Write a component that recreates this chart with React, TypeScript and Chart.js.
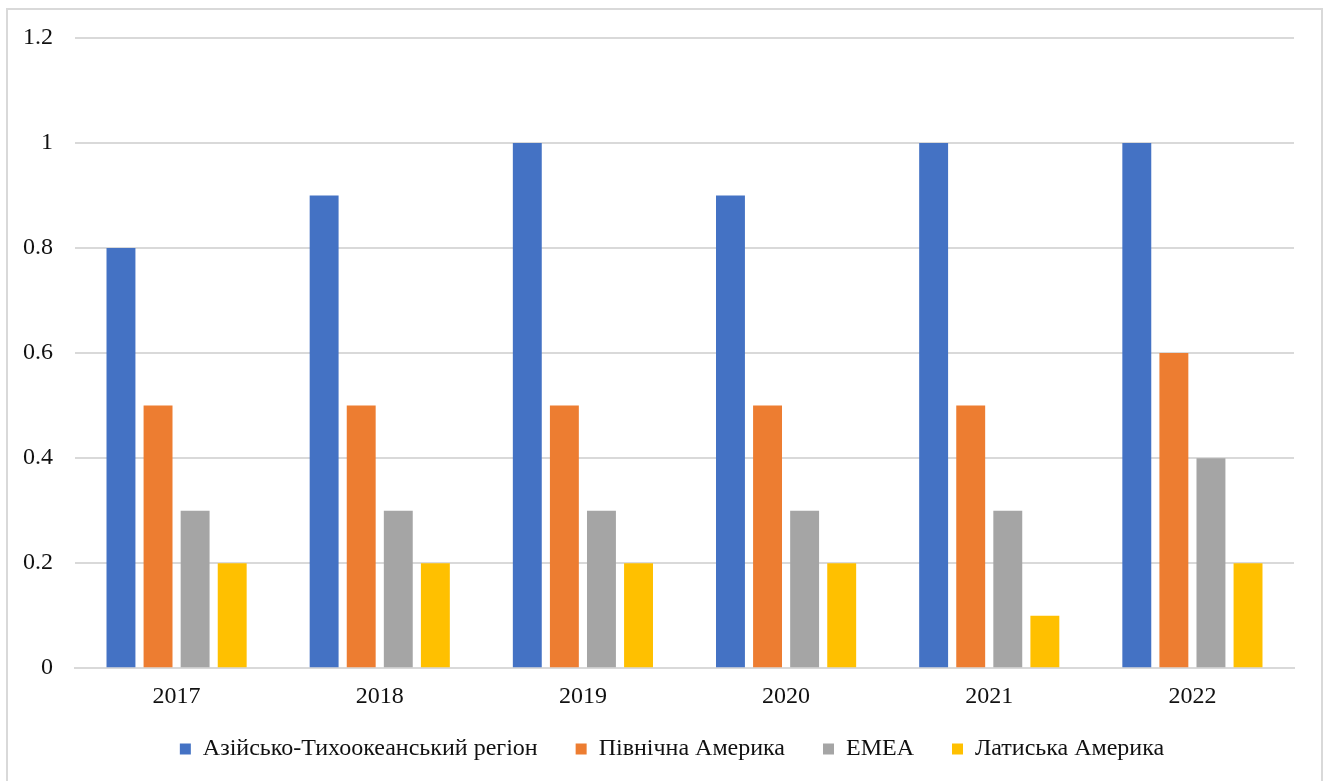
import React, { useEffect, useRef } from "react";
import { Chart, registerables } from "chart.js";

Chart.register(...registerables);

const years = ["2017", "2018", "2019", "2020", "2021", "2022"];
const seriesNames = [
  "Азійсько-Тихоокеанський регіон",
  "Північна Америка",
  "EMEA",
  "Латиська Америка",
];
const asiaPacific = [0.8, 0.9, 1, 0.9, 1, 1];
const northAmerica = [0.5, 0.5, 0.5, 0.5, 0.5, 0.6];
const emea = [0.3, 0.3, 0.3, 0.3, 0.3, 0.4];
const latinAmerica = [0.2, 0.2, 0.2, 0.2, 0.1, 0.2];
const seriesColors = ["#4472C4", "#ED7D31", "#A5A5A5", "#FFC000"];
const yTicks = [0, 0.2, 0.4, 0.6, 0.8, 1, 1.2];

const FONT = "'Liberation Serif', 'Times New Roman', serif";
const TEXT = "#111111";

// Moves the legend block closer to the category labels and slightly right.
const legendOffset = {
  id: "legendOffset",
  afterLayout(chart: any) {
    const lg = chart.legend;
    if (!lg) return;
    const dx = 25;
    const dy = -26;
    lg.top += dy;
    lg.bottom += dy;
    lg.left += dx;
    lg.right += dx;
  },
};

export default function App() {
  const canvasRef = useRef<HTMLCanvasElement | null>(null);

  useEffect(() => {
    const canvas = canvasRef.current;
    if (!canvas) return;
    const values = [asiaPacific, northAmerica, emea, latinAmerica];
    const chart = new Chart(canvas, {
      type: "bar",
      data: {
        labels: years,
        datasets: values.map((data, i) => ({
          label: seriesNames[i],
          data,
          backgroundColor: seriesColors[i],
          borderWidth: 0,
          categoryPercentage: 0.73,
          barPercentage: 0.78,
        })),
      },
      options: {
        responsive: false,
        animation: false,
        layout: { padding: { left: 0, right: 35, top: 38, bottom: -16 } },
        scales: {
          x: {
            grid: { display: false, drawTicks: false },
            border: { display: true, color: "#d9d9d9", width: 2 },
            ticks: {
              padding: 14,
              color: TEXT,
              font: { family: FONT, size: 24 },
            },
          },
          y: {
            min: yTicks[0],
            max: yTicks[yTicks.length - 1],
            grid: { color: "#d9d9d9", lineWidth: 2, drawTicks: false },
            border: { display: false },
            afterBuildTicks: (scale: any) => {
              scale.ticks = yTicks.map((v) => ({ value: v }));
            },
            ticks: {
              padding: 22,
              color: TEXT,
              font: { family: FONT, size: 24 },
              callback: (v: any) => String(parseFloat(Number(v).toFixed(1))),
            },
            afterFit: (scale: any) => {
              scale.width = 75;
            },
          },
        },
        plugins: {
          legend: {
            position: "bottom",
            labels: {
              boxWidth: 11,
              boxHeight: 11,
              padding: 38,
              color: TEXT,
              font: { family: FONT, size: 24 },
            },
          },
          tooltip: { enabled: false },
        },
      },
      plugins: [legendOffset],
    });
    return () => chart.destroy();
  }, []);

  return (
    <div style={{ position: "fixed", left: 0, top: 0, width: 1329, height: 781, background: "#fff" }}>
      <div
        style={{
          position: "absolute",
          left: 6,
          top: 8,
          width: 1317,
          height: 800,
          border: "2px solid #d9d9d9",
          boxSizing: "border-box",
        }}
      />
      <canvas
        ref={canvasRef}
        width={1329}
        height={781}
        style={{ position: "absolute", left: 0, top: 0, width: 1329, height: 781 }}
      />
    </div>
  );
}
